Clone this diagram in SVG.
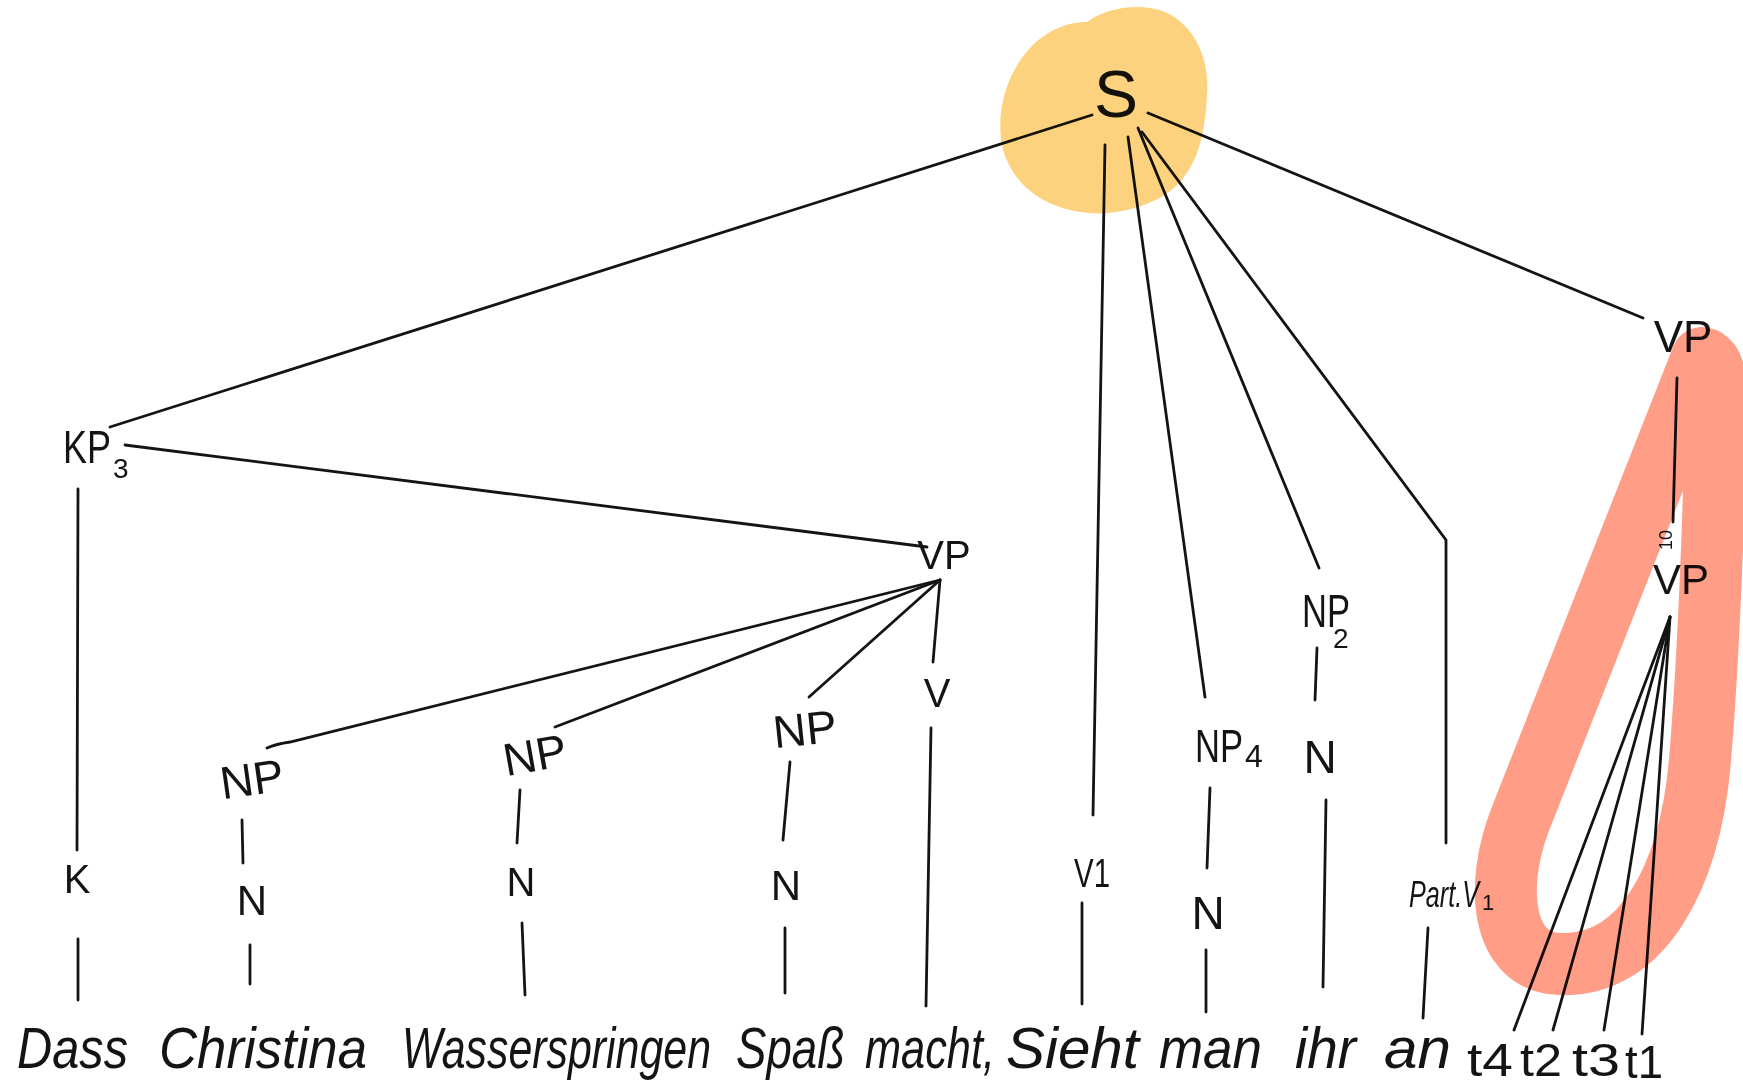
<svg xmlns="http://www.w3.org/2000/svg" width="1743" height="1090" viewBox="0 0 1743 1090">
  <style>
    .lbl { font-family: "Liberation Sans", Arial, sans-serif; font-size: 46px; fill: #141414; text-anchor: middle; }
    .sub { font-size: 28px; text-anchor: start; }
    .word { font-family: "Liberation Sans", Arial, sans-serif; font-style: italic; font-size: 58px; fill: #141414; }
    .edge { stroke: #141414; stroke-width: 2.8; stroke-linecap: round; fill: none; }
    .hl { mix-blend-mode: multiply; }
  </style>
  <rect x="0" y="0" width="1743" height="1090" fill="#ffffff"/>

  <!-- connectors -->
  <g id="edges" class="edge">
    <!-- from S -->
    <line x1="1092" y1="115" x2="110" y2="427"/>
    <line x1="1105" y1="145" x2="1093" y2="815"/>
    <line x1="1128" y1="137" x2="1205" y2="697"/>
    <line x1="1138" y1="128" x2="1319" y2="568"/>
    <polyline points="1142,132 1446,540 1446,843"/>
    <line x1="1148" y1="113" x2="1643" y2="318"/>
    <!-- KP3 -->
    <line x1="125" y1="445" x2="927" y2="547"/>
    <line x1="78" y1="489" x2="77" y2="850"/>
    <line x1="78" y1="939" x2="78" y2="1000"/>
    <!-- middle VP -->
    <path d="M940,580 L290,742 Q276,744 267,748"/>
    <line x1="940" y1="580" x2="555" y2="727"/>
    <line x1="940" y1="580" x2="809" y2="697"/>
    <line x1="940" y1="580" x2="933" y2="662"/>
    <!-- NP / N chains -->
    <line x1="242" y1="820" x2="243" y2="863"/>
    <line x1="250" y1="945" x2="250" y2="984"/>
    <line x1="520" y1="790" x2="517" y2="843"/>
    <line x1="522" y1="923" x2="525" y2="995"/>
    <line x1="790" y1="762" x2="783" y2="840"/>
    <line x1="785" y1="928" x2="785" y2="993"/>
    <line x1="931" y1="728" x2="926" y2="1006"/>
    <line x1="1082" y1="903" x2="1082" y2="1004"/>
    <line x1="1210" y1="788" x2="1207" y2="868"/>
    <line x1="1206" y1="950" x2="1206" y2="1012"/>
    <line x1="1317" y1="648" x2="1315" y2="700"/>
    <line x1="1326" y1="800" x2="1323" y2="987"/>
    <line x1="1428" y1="928" x2="1423" y2="1018"/>
    <!-- right VP -->
    <line x1="1677" y1="378" x2="1673" y2="522"/>
    <line x1="1670" y1="617" x2="1514" y2="1030"/>
    <line x1="1670" y1="617" x2="1553" y2="1030"/>
    <line x1="1670" y1="617" x2="1604" y2="1030"/>
    <line x1="1670" y1="617" x2="1642" y2="1034"/>
  </g>

  <!-- nodes -->
  <g id="node-S"><text class="lbl" x="1116" y="117" style="font-size:66px">S</text></g>
  <g id="node-KP3"><text class="lbl" x="87" y="463" textLength="48" lengthAdjust="spacingAndGlyphs">KP</text><text class="lbl sub" x="113" y="478">3</text></g>
  <g id="node-VP-mid"><text class="lbl" x="944" y="569" style="font-size:40px">VP</text></g>
  <g id="node-K"><text class="lbl" x="77" y="893" style="font-size:40px">K</text></g>
  <g id="node-NP1"><text class="lbl" x="252" y="795" transform="rotate(-8 252 780)">NP</text></g>
  <g id="node-N1"><text class="lbl" x="252" y="915" style="font-size:42px">N</text></g>
  <g id="node-NP2"><text class="lbl" x="535" y="771" transform="rotate(-10 535 756)">NP</text></g>
  <g id="node-N2"><text class="lbl" x="521" y="896" style="font-size:40px">N</text></g>
  <g id="node-NP3"><text class="lbl" x="805" y="745" transform="rotate(-6 805 730)">NP</text></g>
  <g id="node-N3"><text class="lbl" x="786" y="900" style="font-size:42px">N</text></g>
  <g id="node-V"><text class="lbl" x="937" y="707" style="font-size:40px">V</text></g>
  <g id="node-V1"><text class="lbl" x="1092" y="887" style="font-size:40px" textLength="36" lengthAdjust="spacingAndGlyphs">V1</text></g>
  <g id="node-NP4"><text class="lbl" x="1219" y="762" textLength="48" lengthAdjust="spacingAndGlyphs">NP</text><text class="lbl sub" x="1245" y="767" style="font-size:32px">4</text></g>
  <g id="node-N4"><text class="lbl" x="1208" y="929">N</text></g>
  <g id="node-NP2r"><text class="lbl" x="1326" y="627" textLength="48" lengthAdjust="spacingAndGlyphs">NP</text><text class="lbl sub" x="1333" y="648" style="font-size:28px">2</text></g>
  <g id="node-Nr"><text class="lbl" x="1320" y="773">N</text></g>
  <g id="node-PartV1"><text class="lbl" x="1444" y="907" style="font-size:36px;font-style:italic" textLength="70" lengthAdjust="spacingAndGlyphs">Part.V</text><text class="lbl sub" x="1482" y="910" style="font-size:22px">1</text></g>
  <g id="node-VP-top"><text class="lbl" x="1683" y="352" style="font-size:44px">VP</text></g>
  <g id="node-10"><text class="lbl" x="0" y="0" style="font-size:18px" transform="translate(1672 540) rotate(-90)">10</text></g>
  <g id="node-VP-low"><text class="lbl" x="1681" y="594" style="font-size:42px">VP</text></g>

  <!-- sentence -->
  <g id="sentence" class="word">
    <text x="17" y="1068" textLength="111" lengthAdjust="spacingAndGlyphs">Dass</text>
    <text x="159" y="1068" textLength="208" lengthAdjust="spacingAndGlyphs">Christina</text>
    <text x="402" y="1068" textLength="309" lengthAdjust="spacingAndGlyphs">Wasserspringen</text>
    <text x="736" y="1068" textLength="109" lengthAdjust="spacingAndGlyphs">Spaß</text>
    <text x="865" y="1068" textLength="130" lengthAdjust="spacingAndGlyphs">macht,</text>
    <text x="1006" y="1068" textLength="133" lengthAdjust="spacingAndGlyphs">Sieht</text>
    <text x="1159" y="1068" textLength="103" lengthAdjust="spacingAndGlyphs">man</text>
    <text x="1295" y="1068" textLength="61" lengthAdjust="spacingAndGlyphs">ihr</text>
    <text x="1384" y="1068" textLength="67" lengthAdjust="spacingAndGlyphs">an</text>
    <text x="1467" y="1076" style="font-style:normal;font-size:46px" textLength="46" lengthAdjust="spacingAndGlyphs">t4</text>
    <text x="1520" y="1076" style="font-style:normal;font-size:46px" textLength="42" lengthAdjust="spacingAndGlyphs">t2</text>
    <text x="1572" y="1076" style="font-style:normal;font-size:46px" textLength="48" lengthAdjust="spacingAndGlyphs">t3</text>
    <text x="1625" y="1078" style="font-style:normal;font-size:46px" textLength="38" lengthAdjust="spacingAndGlyphs">t1</text>
  </g>

  <!-- highlight marks -->
  <path class="hl" fill="#FCD27E" d="M1087,22 C1105,8 1140,2 1165,12 C1195,25 1210,60 1207,95 C1205,140 1195,175 1165,195 C1140,210 1110,215 1090,213 C1050,210 1015,190 1003,150 C995,115 1005,75 1030,48 C1045,32 1065,22 1087,22 Z"/>
  <path class="hl" fill="none" stroke="#FF9D86" stroke-width="62" stroke-linejoin="round" stroke-linecap="round" d="M1702,358 L1520,820 C1495,885 1500,962 1560,964 C1640,968 1690,880 1700,760 C1710,640 1714,500 1716,420 C1718,380 1714,360 1702,358 Z"/>
</svg>
